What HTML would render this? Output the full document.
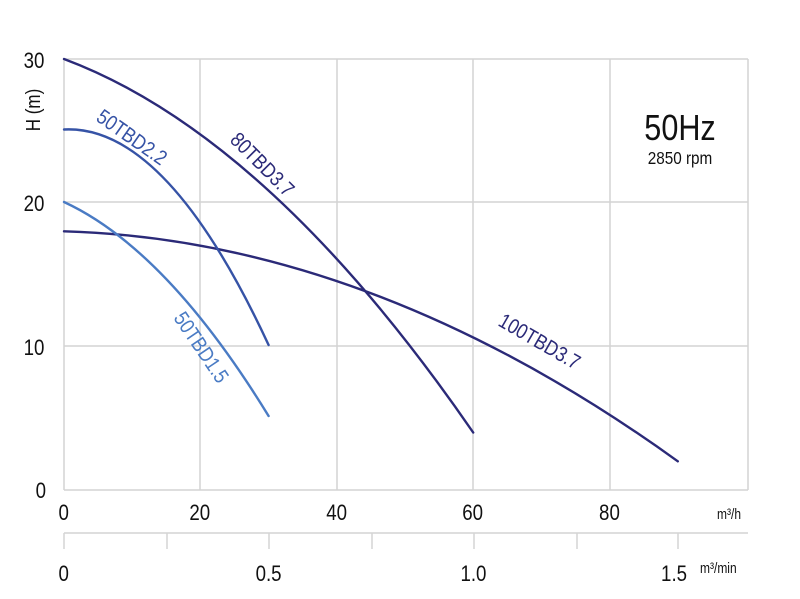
<!DOCTYPE html>
<html><head><meta charset="utf-8"><style>
html,body{margin:0;padding:0;background:#fff;}
svg{display:block;font-family:"Liberation Sans",Arial,sans-serif;}
</style></head><body>
<svg width="800" height="599" viewBox="0 0 800 599" xmlns="http://www.w3.org/2000/svg">
<g stroke="#d4d4d4" stroke-width="1.5" fill="none">
<line x1="64" y1="59" x2="748" y2="59"/>
<line x1="64" y1="202" x2="748" y2="202"/>
<line x1="64" y1="346" x2="748" y2="346"/>
<line x1="64" y1="490" x2="748" y2="490"/>
<line x1="64" y1="59" x2="64" y2="490"/>
<line x1="200" y1="59" x2="200" y2="490"/>
<line x1="337" y1="59" x2="337" y2="490"/>
<line x1="473" y1="59" x2="473" y2="490"/>
<line x1="610" y1="59" x2="610" y2="490"/>
<line x1="748" y1="59" x2="748" y2="490"/>
<line x1="64" y1="533" x2="748" y2="533"/>
<line x1="64" y1="533" x2="64" y2="549"/>
<line x1="167" y1="533" x2="167" y2="549"/>
<line x1="269" y1="533" x2="269" y2="549"/>
<line x1="372" y1="533" x2="372" y2="549"/>
<line x1="474" y1="533" x2="474" y2="549"/>
<line x1="577" y1="533" x2="577" y2="549"/>
<line x1="678" y1="533" x2="678" y2="549"/>
</g>
<g fill="none" stroke-width="2.4" stroke-linecap="round">
<path stroke="#2b2a78" d="M64,59 Q268.6,135.4 473.2,432.5"/>
<path stroke="#2b2a78" d="M64,231.3 Q370.9,240.1 677.8,461.3"/>
<path stroke="#3653a6" d="M64,129.5 Q166.3,124.3 268.6,345"/>
<path stroke="#4a7bc4" d="M64,202 Q166.3,249.2 268.6,416"/>
</g>
<g font-size="22" fill="#111">
<g transform="scale(0.85,1)">
<text x="40" y="68" text-anchor="middle">30</text>
<text x="40" y="211" text-anchor="middle">20</text>
<text x="40" y="355" text-anchor="middle">10</text>
<text x="48" y="498" text-anchor="middle">0</text>
<text x="75" y="520" text-anchor="middle">0</text>
<text x="235" y="520" text-anchor="middle">20</text>
<text x="396" y="520" text-anchor="middle">40</text>
<text x="556" y="520" text-anchor="middle">60</text>
<text x="717" y="520" text-anchor="middle">80</text>
<text x="75" y="581" text-anchor="middle">0</text>
<text x="316" y="581" text-anchor="middle">0.5</text>
<text x="557" y="581" text-anchor="middle">1.0</text>
<text x="793" y="581" text-anchor="middle">1.5</text>
</g>
<text font-size="15" transform="translate(717,519) scale(0.8,1)">m³/h</text>
<text font-size="15" transform="translate(700,573) scale(0.8,1)">m³/min</text>
<text transform="translate(40,110) rotate(-90) scale(0.85,1)" text-anchor="middle" font-size="20">H (m)</text>
<text transform="translate(680,140) scale(0.85,1)" text-anchor="middle" font-size="36">50Hz</text>
<text transform="translate(680,164) scale(0.85,1)" text-anchor="middle" font-size="18">2850 rpm</text>
</g>
<g font-size="21">
<text fill="#3653a6" transform="translate(95,120) rotate(35) scale(0.85,1)">50TBD2.2</text>
<text fill="#2b2a78" transform="translate(229,141) rotate(45) scale(0.85,1)">80TBD3.7</text>
<text fill="#4a7bc4" transform="translate(173,318) rotate(56) scale(0.85,1)">50TBD1.5</text>
<text fill="#2b2a78" transform="translate(497,325) rotate(30) scale(0.85,1)">100TBD3.7</text>
</g>
</svg>
</body></html>
